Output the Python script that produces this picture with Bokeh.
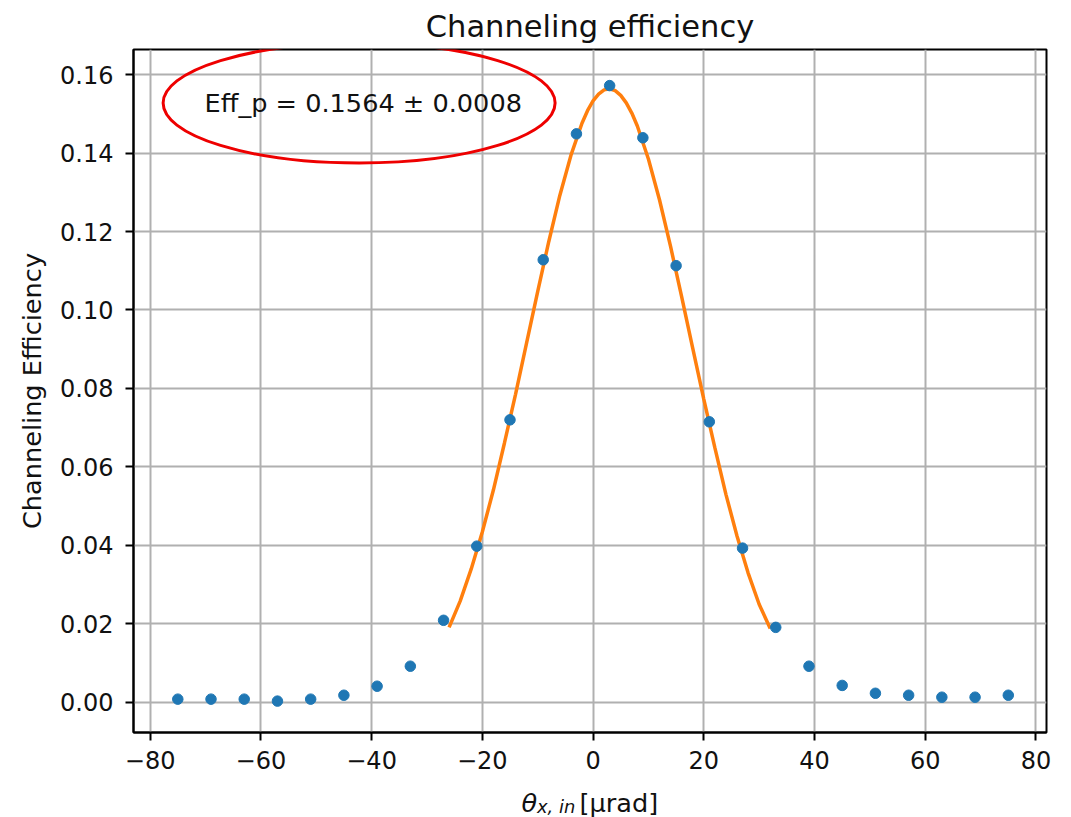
from bokeh.plotting import figure
from bokeh.layouts import column
from bokeh.models import Range1d, Label, FixedTicker
from bokeh.embed import file_html
from bokeh.resources import INLINE

# ---- data ----
theta_x = [-75, -69, -63, -57, -51, -45, -39, -33, -27, -21, -15, -9, -3,
           3, 9, 15, 21, 27, 33, 39, 45, 51, 57, 63, 69, 75]
efficiency = [0.0008, 0.0008, 0.0008, 0.0003, 0.0008, 0.0018, 0.0041, 0.0092,
              0.0209, 0.0398, 0.0720, 0.1128, 0.1449,
              0.1572, 0.1439, 0.1113, 0.0715, 0.0393, 0.0191, 0.0092,
              0.0043, 0.0023, 0.0018, 0.0013, 0.0013, 0.0018]

# fitted curve
fit_x = [-26, -24, -22, -20, -18, -16, -14, -12, -10, -8, -6, -4, -2, -1, 0,
         1, 2, 3, 4, 5, 6, 7, 8, 10, 12, 14, 16, 18, 20, 22, 24, 26, 28, 30, 32]
fit_y = [0.0191, 0.0258, 0.0340, 0.0434, 0.0541, 0.0661, 0.0785, 0.0916,
         0.1047, 0.1174, 0.1292, 0.1394, 0.1476, 0.1508, 0.1533,
         0.1550, 0.1561, 0.1564, 0.1559, 0.1547, 0.1528, 0.1502, 0.1469,
         0.1385, 0.1281, 0.1162, 0.1034, 0.0903, 0.0773, 0.0649, 0.0530,
         0.0424, 0.0330, 0.0250, 0.0188]

x_ticks = [-80, -60, -40, -20, 0, 20, 40, 60, 80]
y_ticks = [0.00, 0.02, 0.04, 0.06, 0.08, 0.10, 0.12, 0.14, 0.16]

title_text = "Channeling efficiency"
ylabel_text = "Channeling Efficiency"
annot_text = "Eff_p = 0.1564 \u00b1 0.0008"
xlabel_symbol = "\u03b8"
xlabel_sub = "x, in"
xlabel_unit = "[\u03bcrad]"

FONT = "DejaVu Sans"
TXT = "#111111"

X0, X1 = -83.0, 81.9
Y0, Y1 = -0.0077, 0.1664

W = 1055
H_MAIN = 778
H_XLAB = 39
B_LEFT, B_RIGHT = 133, 9

p = figure(width=W, height=H_MAIN, output_backend="svg", toolbar_location=None,
           x_range=Range1d(X0, X1), y_range=Range1d(Y0, Y1),
           min_border_left=B_LEFT, min_border_right=B_RIGHT,
           min_border_top=49, min_border_bottom=46)

p.background_fill_color = "white"
p.border_fill_color = "white"
p.outline_line_color = "black"
p.outline_line_width = 2

p.title.text = title_text
p.title.text_font = FONT
p.title.text_font_size = "30.5px"
p.title.text_font_style = "normal"
p.title.text_color = TXT
p.title.align = "center"
p.title.standoff = 12

for ax in (p.xaxis, p.yaxis):
    ax.axis_line_color = "black"
    ax.axis_line_width = 2
    ax.major_tick_line_color = "black"
    ax.major_tick_line_width = 2
    ax.major_tick_out = 8
    ax.major_tick_in = 0
    ax.minor_tick_line_color = None
    ax.major_label_text_font = FONT
    ax.major_label_text_font_size = "24px"
    ax.major_label_text_color = TXT

p.xaxis.ticker = FixedTicker(ticks=x_ticks)
p.yaxis.ticker = FixedTicker(ticks=y_ticks)
p.xaxis.major_label_overrides = {t: ("\u2212%d" % abs(t) if t < 0 else "%d" % t) for t in x_ticks}
p.yaxis.major_label_overrides = {t: "%.2f" % t for t in y_ticks}
p.xaxis.major_label_standoff = 10
p.yaxis.major_label_standoff = 12

p.yaxis.axis_label = ylabel_text
p.yaxis.axis_label_text_font = FONT
p.yaxis.axis_label_text_font_size = "25.6px"
p.yaxis.axis_label_text_font_style = "normal"
p.yaxis.axis_label_text_color = TXT
p.yaxis.axis_label_standoff = 10

p.xgrid.ticker = FixedTicker(ticks=x_ticks)
p.ygrid.ticker = FixedTicker(ticks=y_ticks)
p.grid.grid_line_color = "#b0b0b0"
p.grid.grid_line_width = 2

# data
p.line(fit_x, fit_y, line_color="#ff7f0e", line_width=3.5)
p.scatter(theta_x, efficiency, size=10.5, fill_color="#1f77b4", line_color="#1f77b4")

# red ellipse annotation around the text
p.ellipse(x=[-42.25], y=[0.15276], width=[392], height=[120],
          width_units="screen", height_units="screen",
          fill_color=None, line_color="#ee0000", line_width=3)

p.add_layout(Label(x=-41.5, y=0.1527, text=annot_text, text_align="center",
                   text_baseline="middle", text_font=FONT,
                   text_font_size="25.6px", text_color=TXT))

# strip below the main plot holding the x-axis label (theta with subscript);
# it shares the main plot's x scale, its y runs in pixels from the top
q = figure(width=W, height=H_XLAB, output_backend="svg", toolbar_location=None,
           title=None, x_range=p.x_range, y_range=Range1d(H_XLAB, 0),
           x_axis_location=None, y_axis_location=None,
           min_border_left=B_LEFT, min_border_right=B_RIGHT,
           min_border_top=0, min_border_bottom=0)
q.outline_line_color = None
q.grid.visible = False
q.background_fill_color = "white"
q.border_fill_color = "white"

def px_x(px):
    return X0 + (px - B_LEFT) * (X1 - X0) / (W - B_LEFT - B_RIGHT)

base = 802.3 - H_MAIN
q.add_layout(Label(x=px_x(521), y=base, text=xlabel_symbol, text_align="left",
                   text_baseline="alphabetic", text_font=FONT, text_font_style="italic",
                   text_font_size="25.6px", text_color=TXT))
q.add_layout(Label(x=px_x(536.5), y=base + 3.5, text=xlabel_sub, text_align="left",
                   text_baseline="alphabetic", text_font=FONT, text_font_style="italic",
                   text_font_size="17.9px", text_color=TXT))
q.add_layout(Label(x=px_x(579), y=base, text=xlabel_unit, text_align="left",
                   text_baseline="alphabetic", text_font=FONT,
                   text_font_size="25.6px", text_color=TXT))

layout = column(p, q, spacing=0)
open("out.html", "w").write(file_html(layout, INLINE))
